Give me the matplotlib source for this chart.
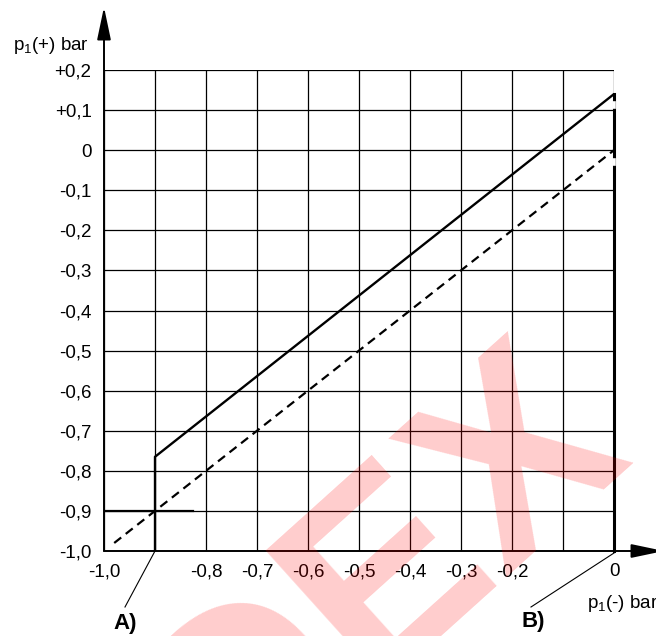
import matplotlib
matplotlib.use("Agg")
import matplotlib.pyplot as plt
import numpy as np
from matplotlib.lines import Line2D

plt.rcParams['font.family'] = ['Liberation Sans', 'DejaVu Sans']
plt.rcParams['mathtext.fontset'] = 'custom'
plt.rcParams['mathtext.rm'] = 'Liberation Sans'

# grid / tick values
x_ticks = [-1.0, -0.9, -0.8, -0.7, -0.6, -0.5, -0.4, -0.3, -0.2, -0.1, 0.0]
x_labels = ['-1,0', '', '-0,8', '-0,7', '-0,6', '-0,5', '-0,4', '-0,3', '-0,2', '', '0']
y_ticks = [-1.0, -0.9, -0.8, -0.7, -0.6, -0.5, -0.4, -0.3, -0.2, -0.1, 0.0, 0.1, 0.2]
y_labels = ['-1,0', '-0,9', '-0,8', '-0,7', '-0,6', '-0,5', '-0,4', '-0,3', '-0,2',
            '-0,1', '0', '+0,1', '+0,2']

# curves
dashed_x = [-0.98, 0.0]
dashed_y = [-0.98, 0.0]
solid_x = [-0.9, -0.9, 0.0]
solid_y = [-1.0, -0.765, 0.14]
right_x = [0.0, 0.0]
right_y = [-1.0, 0.14]
mark_x = [-1.0, -0.825]
mark_y = [-0.9, -0.9]

W, H = 656, 636
fig = plt.figure(figsize=(W / 100, H / 100), dpi=100)
ax = fig.add_axes([104 / W, 85 / H, 510 / W, 481 / H])
ax.set_xlim(-1.0, 0.0)
ax.set_ylim(-1.0, 0.2)
for s in ax.spines.values():
    s.set_visible(False)

for xv in x_ticks:
    ax.axvline(xv, color='black', lw=0.9, zorder=1)
for yv in y_ticks:
    ax.axhline(yv, color='black', lw=0.9, zorder=1)

ax.set_xticks(x_ticks)
ax.set_xticklabels(x_labels, fontsize=13.5)
ax.set_yticks(y_ticks)
ax.set_yticklabels(y_labels, fontsize=13.5)
ax.tick_params(axis='x', length=0, pad=9)
ax.tick_params(axis='y', length=0, pad=9)

ax.plot(dashed_x, dashed_y, color='black', lw=1.6, dashes=(4, 2.6), zorder=3)
ax.plot(solid_x, solid_y, color='black', lw=1.7, zorder=3, solid_capstyle='butt')
ax.plot(right_x, right_y, color='black', lw=2.2, zorder=3, clip_on=False)
ax.plot(mark_x, mark_y, color='black', lw=1.6, zorder=3)
# small white gaps on the right edge line
ax.plot([0.0, 0.0], [0.108, 0.118], color='white', lw=2.6, zorder=4, clip_on=False)
ax.plot([0.0, 0.0], [-0.035, -0.025], color='white', lw=2.6, zorder=4, clip_on=False)

# axis arrows
arrow = dict(arrowstyle='-|>,head_length=2.0,head_width=0.42', mutation_scale=10,
             color='black', lw=1.4, shrinkA=0, shrinkB=0)
ax.annotate('', xy=(104, H - 7), xytext=(104, 85), xycoords='figure pixels',
            textcoords='figure pixels', arrowprops=arrow)
ax.annotate('', xy=(664, 85), xytext=(104, 85), xycoords='figure pixels',
            textcoords='figure pixels', arrowprops=arrow)

fig.text(13 / W, (H - 45) / H, 'p$_{1}$(+) bar', fontsize=13.5, va='center', ha='left')
fig.text(587 / W, (H - 603) / H, 'p$_{1}$(-) bar', fontsize=13.5, va='center', ha='left')

# A) and B) leaders
fig.add_artist(Line2D([155 / W, 125 / W], [(H - 551) / H, (H - 607) / H],
                      color='black', lw=0.8))
fig.add_artist(Line2D([614 / W, 531 / W], [(H - 553) / H, (H - 607) / H],
                      color='black', lw=0.8))
fig.text(125 / W, (H - 624) / H, 'A)', fontsize=16, fontweight='bold',
         ha='center', va='center')
fig.text(533 / W, (H - 622) / H, 'B)', fontsize=16, fontweight='bold',
         ha='center', va='center')

# watermark
fig.text(430 / W, (H - 630) / H, 'DEX', fontsize=190, fontweight='bold', color='red',
         alpha=0.2, rotation=42, rotation_mode='anchor', ha='center', va='baseline',
         zorder=10)

fig.savefig('out.png', dpi=100)
